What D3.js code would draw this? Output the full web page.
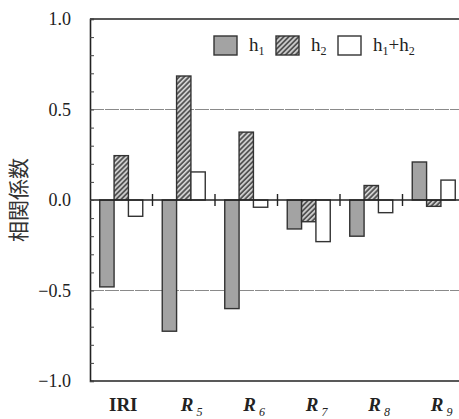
<!DOCTYPE html>
<html>
<head>
<meta charset="utf-8">
<script src="https://cdn.jsdelivr.net/npm/d3@7"></script>
<style>
  body { margin: 0; background: #fff; }
  svg { display: block; }
  text { font-family: "Liberation Serif", "DejaVu Serif", serif; fill: #222; }
</style>
</head>
<body>
<div id="chart"></div>
<script>
const categories = ["IRI", "R5", "R6", "R7", "R8", "R9"];
const series = ["h1", "h2", "h1+h2"];
const h1 = [-0.48, -0.725, -0.60, -0.16, -0.20, 0.21];
const h2 = [0.245, 0.685, 0.375, -0.12, 0.08, -0.035];
const h12 = [-0.09, 0.155, -0.04, -0.23, -0.07, 0.11];
const yTicks = [-1.0, -0.5, 0.0, 0.5, 1.0];

const width = 459, height = 419;
const plotL = 90, plotR = 465, plotT = 19, plotB = 381;

const svg = d3.select("#chart").append("svg")
  .attr("width", width)
  .attr("height", height);

const defs = svg.append("defs");
const hatch = defs.append("pattern")
  .attr("id", "hatch")
  .attr("patternUnits", "userSpaceOnUse")
  .attr("width", 3.5).attr("height", 3.5)
  .attr("patternTransform", "rotate(45)");
hatch.append("rect").attr("width", 3.5).attr("height", 3.5).attr("fill", "#555");
hatch.append("rect").attr("width", 1.6).attr("height", 3.5).attr("fill", "#d8d8d8");

const fills = { "h1": "#a3a3a3", "h2": "url(#hatch)", "h1+h2": "#fff" };

const x = d3.scaleBand().domain(categories).range([plotL, plotR]);
const xs = d3.scaleBand().domain(series).range([0, x.bandwidth()])
  .paddingInner(0).paddingOuter(0.68);
const y = d3.scaleLinear().domain([-1, 1]).range([plotB, plotT]);

const values = { "h1": h1, "h2": h2, "h1+h2": h12 };

// grid lines at +-0.5
svg.append("g").selectAll("line")
  .data([0.5, -0.5])
  .join("line")
  .attr("x1", plotL).attr("x2", width)
  .attr("y1", d => y(d)).attr("y2", d => y(d))
  .attr("stroke", "#8a8a8a")
  .attr("stroke-width", 1)
  .attr("stroke-dasharray", "14,1");

// bars
const rows = [];
categories.forEach((c, i) => {
  series.forEach(s => rows.push({ cat: c, s: s, v: values[s][i] }));
});

svg.append("g").selectAll("rect")
  .data(rows)
  .join("rect")
  .attr("x", d => x(d.cat) + xs(d.s))
  .attr("width", xs.bandwidth())
  .attr("y", d => y(Math.max(0, d.v)))
  .attr("height", d => Math.abs(y(d.v) - y(0)))
  .attr("fill", d => fills[d.s])
  .attr("stroke", "#333")
  .attr("stroke-width", 1.4);

// zero axis with separator ticks
svg.append("line")
  .attr("x1", plotL).attr("x2", width)
  .attr("y1", y(0)).attr("y2", y(0))
  .attr("stroke", "#222").attr("stroke-width", 1.5);

svg.append("g").selectAll("line")
  .data(categories.slice(1))
  .join("line")
  .attr("x1", d => x(d)).attr("x2", d => x(d))
  .attr("y1", y(0) - 6).attr("y2", y(0) + 6)
  .attr("stroke", "#222").attr("stroke-width", 1.4);

// frame
svg.append("line").attr("x1", plotL).attr("x2", width).attr("y1", plotT).attr("y2", plotT)
  .attr("stroke", "#222").attr("stroke-width", 1.6);
svg.append("line").attr("x1", plotL).attr("x2", width).attr("y1", plotB).attr("y2", plotB)
  .attr("stroke", "#222").attr("stroke-width", 1.6);

// left axis
const yAxis = svg.append("g")
  .attr("transform", `translate(${plotL},0)`)
  .call(d3.axisLeft(y).tickValues(d3.range(-10, 11).map(d => d / 10))
    .tickSize(-4).tickFormat(""));
yAxis.select(".domain").attr("stroke", "#222").attr("stroke-width", 1.6);
yAxis.selectAll(".tick line").attr("stroke", "#444");

svg.append("g").selectAll("text")
  .data(yTicks)
  .join("text")
  .attr("x", 71)
  .attr("y", d => y(d) + 6)
  .attr("text-anchor", "end")
  .style("font-size", "18px")
  .text(d => d3.format(".1f")(d));

// y label
svg.append("text")
  .attr("transform", `translate(26,${y(0)}) rotate(-90)`)
  .attr("text-anchor", "middle")
  .style("font-family", "'Noto Sans CJK JP', sans-serif")
  .style("font-size", "21px")
  .style("fill", "#333")
  .text("相関係数");

// x labels
const xl = svg.append("g").selectAll("text")
  .data(categories)
  .join("text")
  .attr("y", 411)
  .style("font-size", "19px")
  .style("font-weight", "bold");
xl.each(function (d) {
  const t = d3.select(this);
  const cx = x(d) + x.bandwidth() / 2;
  if (d === "IRI") {
    t.attr("x", cx + 2).attr("text-anchor", "middle").text(d);
  } else {
    t.attr("x", cx - 3).attr("text-anchor", "start");
    t.append("tspan").style("font-style", "italic").text(d[0]);
    t.append("tspan").attr("dx", 3).attr("dy", 5).style("font-size", "12px")
      .style("font-style", "italic").style("font-weight", "normal").text(d.slice(1));
  }
});

// legend
const legendX = [214, 276, 338];
const leg = svg.append("g").selectAll("g")
  .data(series)
  .join("g")
  .attr("transform", (d, i) => `translate(${legendX[i]},36)`);
leg.append("rect")
  .attr("width", 23).attr("height", 19)
  .attr("fill", d => fills[d])
  .attr("stroke", "#333").attr("stroke-width", 1.4);
leg.each(function (d) {
  const t = d3.select(this).append("text")
    .attr("x", 35).attr("y", 15)
    .style("font-size", "19px");
  const parts = d.split("+");
  parts.forEach((p, i) => {
    if (i > 0) t.append("tspan").attr("dy", -4).text("+");
    t.append("tspan").text(p[0]);
    t.append("tspan").attr("dy", 4).style("font-size", "12px").text(p.slice(1));
  });
});
</script>
</body>
</html>
